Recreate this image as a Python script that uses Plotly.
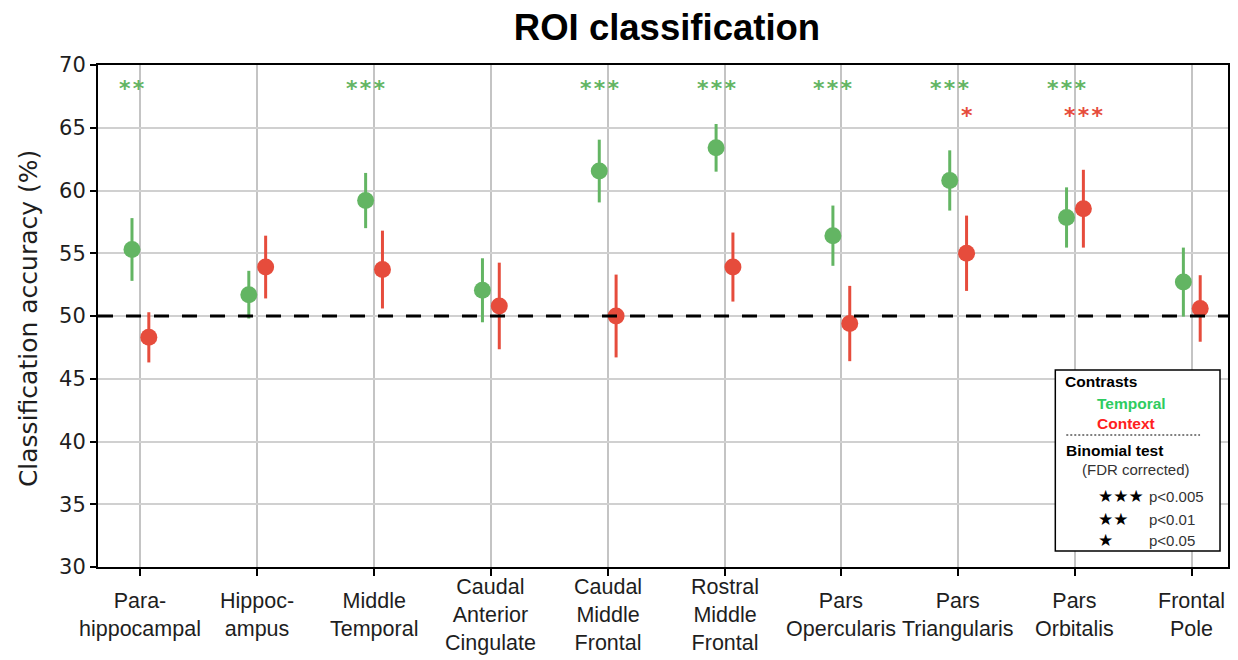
import plotly.graph_objects as go

# ROI names (line breaks as printed under the axis)
regions = [
    "Para-<br>hippocampal", "Hippoc-<br>ampus", "Middle<br>Temporal",
    "Caudal<br>Anterior<br>Cingulate", "Caudal<br>Middle<br>Frontal",
    "Rostral<br>Middle<br>Frontal", "Pars<br>Opercularis", "Pars<br>Triangularis",
    "Pars<br>Orbitalis", "Frontal<br>Pole",
]

# Mean decoding accuracy (%) and error half-widths
temporal_acc = [55.3, 51.7, 59.2, 52.05, 61.55, 63.4, 56.4, 60.8, 57.85, 52.7]
temporal_err = [2.5, 1.9, 2.2, 2.55, 2.5, 1.9, 2.4, 2.4, 2.4, 2.75]
context_acc = [48.3, 53.9, 53.7, 50.8, 50.0, 53.9, 49.4, 55.0, 58.55, 50.6]
context_err = [2.0, 2.5, 3.1, 3.45, 3.3, 2.75, 3.0, 3.0, 3.1, 2.65]

# Binomial test significance marks (FDR corrected)
temporal_sig = ["**", "", "***", "", "***", "***", "***", "***", "***", ""]
context_sig = ["", "", "", "", "", "", "", "*", "***", ""]

chance_level = 50
y_ticks = [30, 35, 40, 45, 50, 55, 60, 65, 70]

GREEN = "#63b563"
RED = "#e64c3c"
SHIFT = 0.072

W, H = 1238, 660
L, R, T, B = 98, 1230, 65, 567


def px(x):
    return (x - L) / (R - L)


def py(y):
    return (B - y) / (B - T)


def spaced(marks):
    # a hair space between asterisks widens the group a little
    return "\u200a".join(marks)


idx = list(range(len(regions)))
fig = go.Figure()

fig.add_trace(go.Scatter(
    x=[i - SHIFT for i in idx], y=temporal_acc, mode="markers",
    marker=dict(color=GREEN, size=17),
    error_y=dict(type="data", array=temporal_err, color=GREEN, thickness=3, width=0),
    showlegend=False,
))
fig.add_trace(go.Scatter(
    x=[i + SHIFT for i in idx], y=context_acc, mode="markers",
    marker=dict(color=RED, size=17),
    error_y=dict(type="data", array=context_err, color=RED, thickness=3, width=0),
    showlegend=False,
))

# chance level
fig.add_shape(type="line", xref="paper", yref="y", x0=0, x1=1, y0=chance_level, y1=chance_level,
              line=dict(color="black", width=3, dash="15px,13px"), layer="above")

annotations = []
star_font = dict(family="DejaVu Sans", size=22, weight="bold")
for i in idx:
    if temporal_sig[i]:
        annotations.append(dict(x=i - SHIFT, y=68.1, xref="x", yref="y", text=spaced(temporal_sig[i]),
                                showarrow=False, font=dict(color=GREEN, **star_font),
                                xanchor="center", yanchor="middle"))
    if context_sig[i]:
        annotations.append(dict(x=i + SHIFT, y=66.0, xref="x", yref="y", text=spaced(context_sig[i]),
                                showarrow=False, font=dict(color=RED, **star_font),
                                xanchor="center", yanchor="middle"))
    # category labels under the axis
    annotations.append(dict(x=i, y=py(615), xref="x", yref="paper", text=regions[i],
                            showarrow=False, align="center", xanchor="center", yanchor="middle",
                            font=dict(family="Liberation Sans", size=21.5, color="#1e1e1e")))

# y-axis title
annotations.append(dict(x=px(28), y=py(319), xref="paper", yref="paper",
                        text="Classification accuracy (%)", textangle=-90, showarrow=False,
                        xanchor="center", yanchor="middle",
                        font=dict(family="DejaVu Sans", size=25, color="#1e1e1e")))

# significance key box
fig.add_shape(type="rect", xref="paper", yref="paper", x0=px(1057), x1=px(1222), y0=py(551), y1=py(370),
              line=dict(color="black", width=1.5), fillcolor="white", layer="above")
fig.add_shape(type="line", xref="paper", yref="paper", x0=px(1068), x1=px(1202), y0=py(435), y1=py(435),
              line=dict(color="black", width=1, dash="2px,2px"), layer="above")


def key_text(x, y, text, size=14, color="black", bold=False, family="Liberation Sans"):
    annotations.append(dict(x=px(x), y=py(y), xref="paper", yref="paper", text=text, showarrow=False,
                            xanchor="left", yanchor="middle",
                            font=dict(family=family, size=size, color=color,
                                      weight="bold" if bold else "normal")))


key_text(1065, 381, "Contrasts", size=15.5, bold=True)
key_text(1097, 403, "Temporal", size=15.5, color="#2ecc60", bold=True)
key_text(1097, 423, "Context", size=15.5, color="#ff2020", bold=True)
key_text(1066, 450, "Binomial test", size=15.5, bold=True)
key_text(1082, 469, "(FDR corrected)", size=15, color="#333333")
for yy, stars, p in [(496, "★★★", "p<0.005"), (519, "★★", "p<0.01"), (540, "★", "p<0.05")]:
    key_text(1098, yy, stars, size=17, family="DejaVu Sans")
    key_text(1149, yy, p, size=15, color="#333333")

fig.update_layout(
    width=W, height=H,
    margin=dict(l=L, r=W - R, t=T, b=H - B),
    paper_bgcolor="white", plot_bgcolor="white",
    title=dict(text="<b>ROI classification</b>", x=667 / W, xanchor="center", y=1 - 27 / H,
               yanchor="middle", font=dict(family="Liberation Sans", size=36.5, color="black")),
    annotations=annotations,
    xaxis=dict(range=[-0.363, 9.31], tickvals=idx, showticklabels=False,
               showgrid=True, gridcolor="#c4c4c4", gridwidth=2, zeroline=False,
               showline=True, linecolor="black", linewidth=2, mirror=True,
               ticks="outside", ticklen=7, tickwidth=1.5, tickcolor="black"),
    yaxis=dict(range=[30, 70], tickvals=y_ticks, showgrid=True, gridcolor="#d0d0d0", gridwidth=2,
               zeroline=False, showline=True, linecolor="black", linewidth=2, mirror=True,
               ticks="outside", ticklen=6, tickwidth=1.5, tickcolor="black",
               tickfont=dict(family="DejaVu Sans", size=21, color="#1e1e1e")),
)

fig.write_html("out.html")
